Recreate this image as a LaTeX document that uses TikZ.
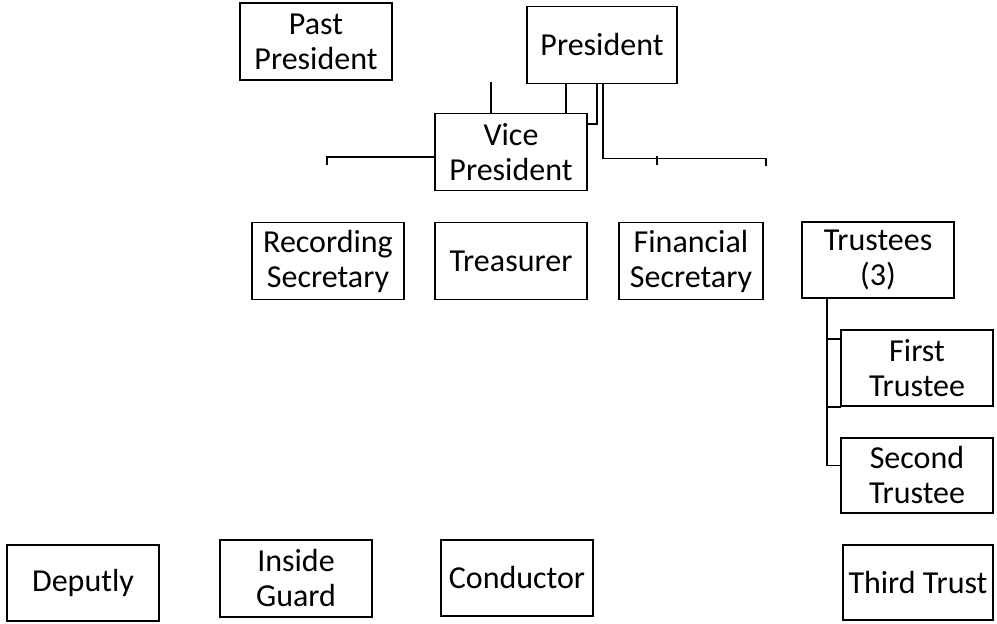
\documentclass[tikz,border=0pt]{standalone}
\usepackage{fontspec}
\setmainfont{Carlito}
\usetikzlibrary{calc, positioning}

\begin{document}
\begin{tikzpicture}
  [x=1pt, y=-1pt,
   office/.style = {
     rectangle, draw=black, line width=1.6pt, align=center, inner sep=2pt,
     minimum width=152pt, minimum height=77pt,
     font=\fontsize{32}{35}\selectfont},
   link/.style = {line width=1.6pt, line cap=rect}
  ]
  \useasboundingbox (0,0) rectangle (997,624);
  \node[office] (past) at (316,41.5) {Past\\President};
  \node[office, minimum width=150pt] (pres) at (602,45) {President};
  \node[office] (vp) at (511,152) {Vice\\President};
  \node[office] (rec) at (328,261) {Recording\\Secretary};
  \node[office] (treas) at (511,261) {Treasurer};
  \node[office, minimum width=144pt] (fin) at (691,261) {Financial\\Secretary};
  \node[office, minimum height=76pt] (trust) at (878,260) {Trustees\\(3)};
  \node[office, minimum height=76pt] (first) at (917,368) {First\\Trustee};
  \node[office, minimum height=75pt] (second) at (917,475.5) {Second\\Trustee};
  \node[office, minimum height=76pt] (deputy) at (83,583) {Deputly};
  \node[office] (guard) at (296,578.5) {Inside\\Guard};
  \node[office, minimum height=76pt] (cond) at (517,578) {Conductor};
  \node[office, minimum width=150pt, minimum height=75pt] (third) at (918,582.5) {Third Trust};
  \draw[link] ([xshift=-20pt]vp.north) -- ++(0,-30);
  \draw[link] ([xshift=-36pt]pres.south) -- ([xshift=55pt]vp.north);
  \draw[link] ([xshift=-5pt]pres.south) |- ([yshift=28pt]vp.east);
  \draw[link] ([xshift=1pt]pres.south) -- ++(0,74) -- ++(163,0) -- ++(0,7);
  \draw[link] (657,157) -- ++(0,7);
  \draw[link] ([yshift=-5pt]vp.west) -- ++(-107,0) -- ++(0,7);
  \draw[link] ([xshift=-51pt]trust.south) |- ([yshift=10pt]second.west);
  \draw[link] (827,339) -- (first.west |- 0,339);
  \draw[link] (first.south west -| 827,0) -- (first.south west);
\end{tikzpicture}
\end{document}
